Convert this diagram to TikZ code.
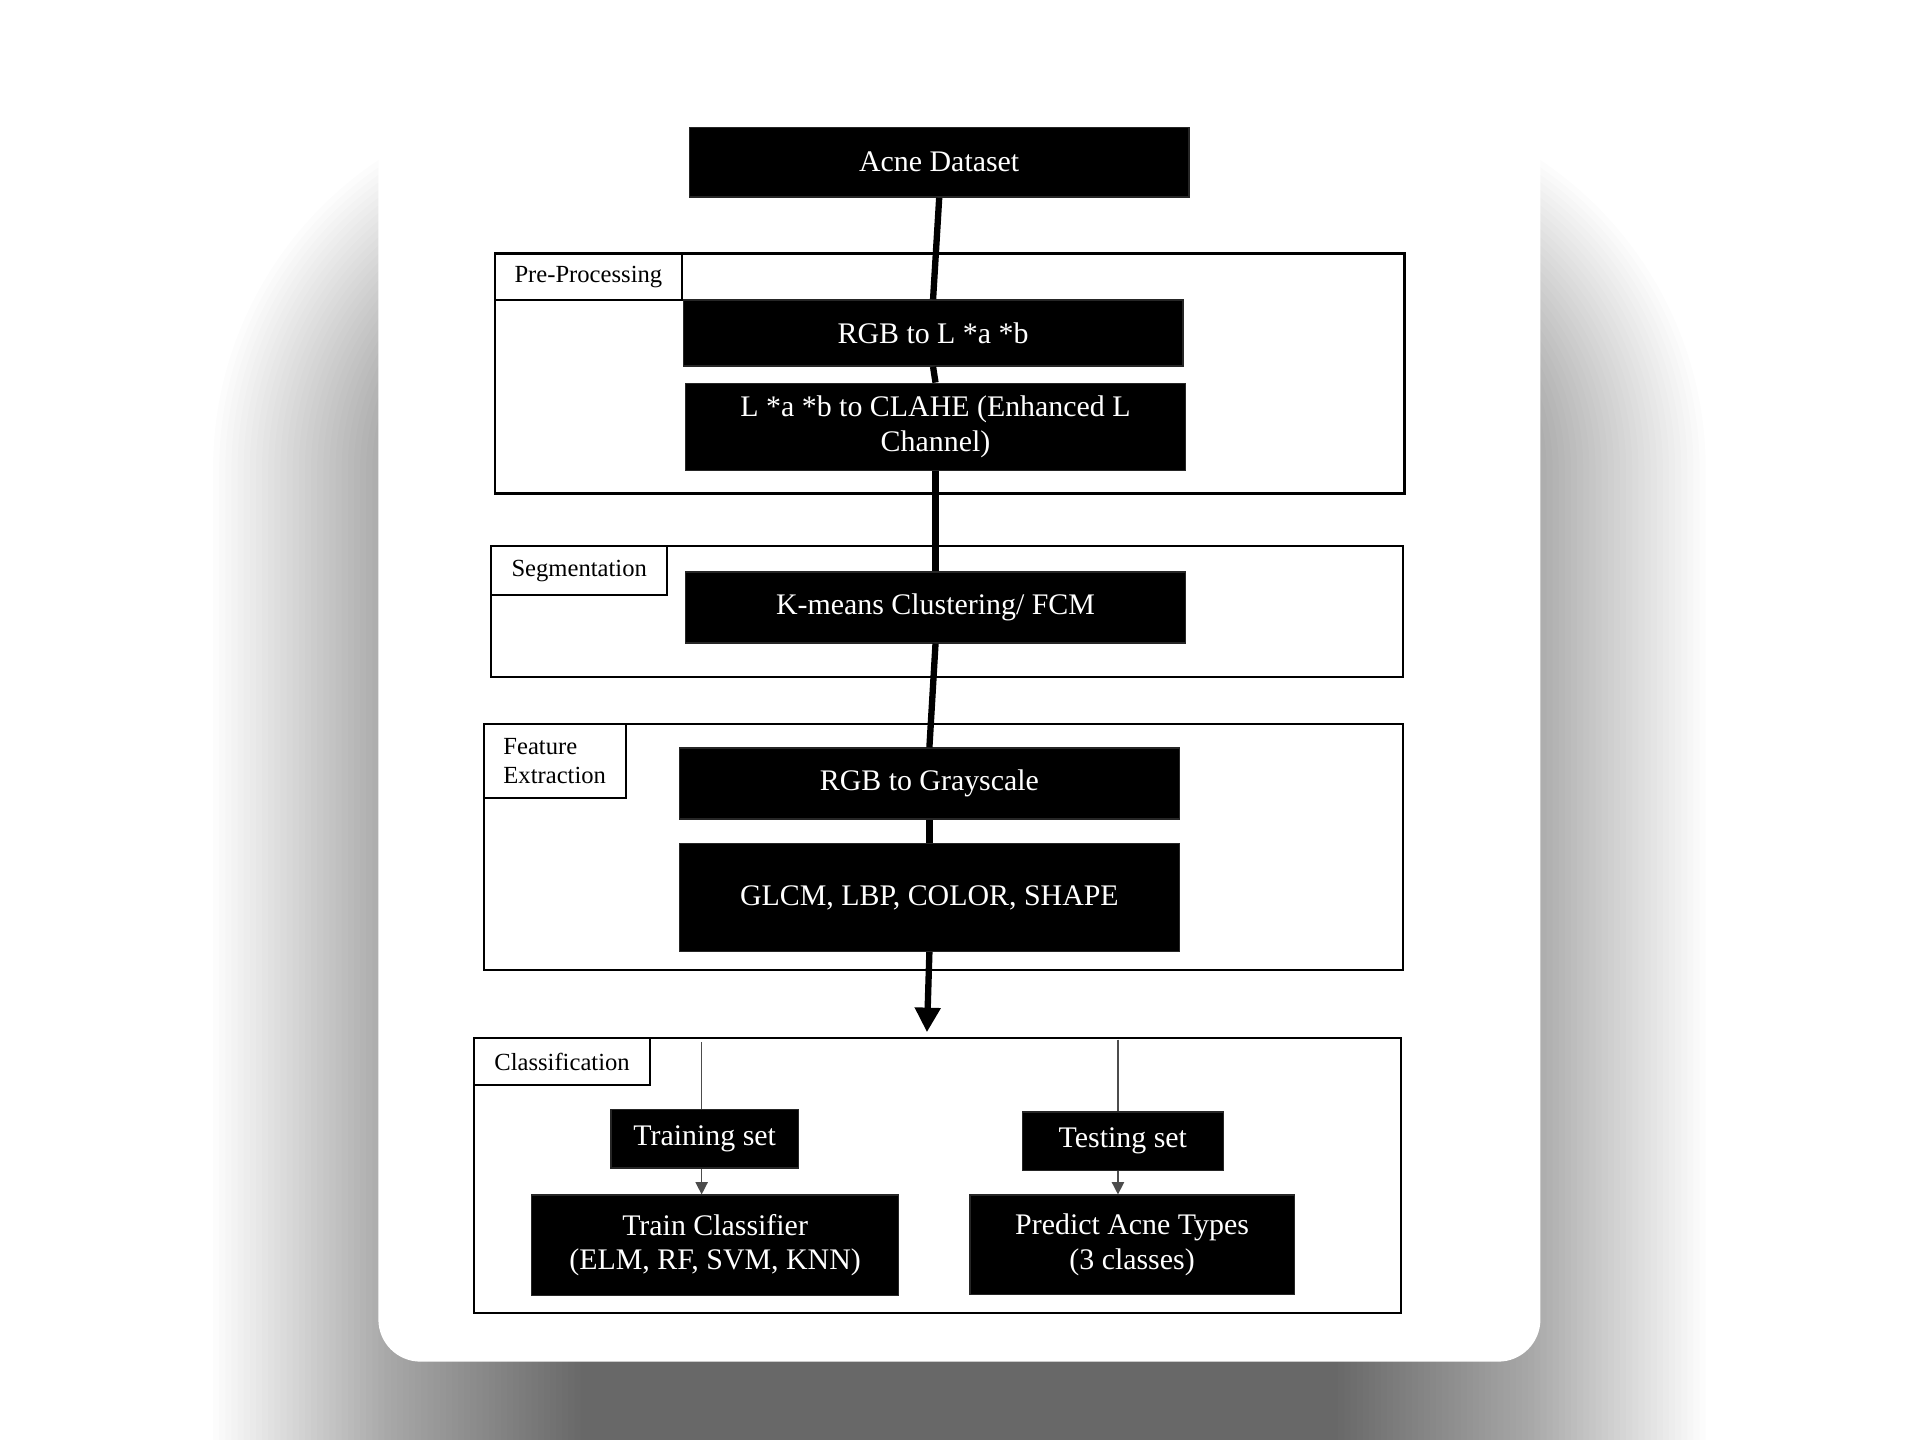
\documentclass[tikz,border=0pt]{standalone}
\usepackage{fontspec}
\setmainfont{Liberation Serif}
\usetikzlibrary{arrows.meta}
\newcommand{\pxu}{0.012245cm}

\begin{document}
\begin{tikzpicture}[x=0.012245cm, y=-0.012245cm,
  blk/.style 2 args={fill=black, draw=black!85, text=white, inner sep=0pt, align=center,
    minimum width=#1*\pxu, minimum height=#2*\pxu,
    font=\fontsize{8.5}{9.8}\selectfont},
  stage/.style 2 args={draw=black, line width=0.6pt, inner sep=0pt,
    minimum width=#1*\pxu, minimum height=#2*\pxu},
  tag/.style 2 args={draw=black, fill=white, line width=0.6pt, inner sep=0pt,
    minimum width=#1*\pxu, minimum height=#2*\pxu,
    font=\fontsize{7}{8.3}\selectfont},
  flow/.style={line width=1.8pt},
  feed/.style={draw=black!70, line width=0.4pt}]
\useasboundingbox (0,0) rectangle (1568,1176);
\fill[white] (0,0) rectangle (1568,1176);
% soft shadow under the card, built from thin layers
\foreach \r in {0,5,...,300}
  \fill[black, opacity=0.011, rounded corners=\r*\pxu+1pt]
    (474-\r,380-\r) rectangle (1093+\r,1300+\r);
% the card
\fill[white, rounded corners=12pt] (309,64) rectangle (1258,1112);

% stage frames and their tags
\node[stage={743}{196}] (pre) at (775.5,305) {};
\node[tag={153}{38}] (pretag) at (480.5,226) {Pre-Processing};
\node[stage={745}{107}] (seg) at (773.5,499.5) {};
\node[tag={144}{40}] (segtag) at (473,466) {Segmentation};
\node[stage={751}{201}] (feat) at (770.5,691.5) {};
\node[tag={116}{61}, align=left, font=\fontsize{7}{8}\selectfont] (feattag) at (453,621.5) {Feature\\Extraction};
\node[stage={757}{224}] (cls) at (765.5,960) {};
\node[tag={144}{38}] (clstag) at (459,867) {Classification};

% main flow
\node[blk={408}{57}] (acne) at (767,132.5) {Acne Dataset};
\node[blk={408}{54}] (rgblab) at (762,272) {RGB to L *a *b};
\node[blk={408}{71}] (clahe) at (764,348.5) {L *a *b to CLAHE (Enhanced L\\Channel)};
\node[blk={408}{58}] (kmeans) at (764,496) {K-means Clustering/ FCM};
\node[blk={408}{58}] (gray) at (759,640) {RGB to Grayscale};
\node[blk={408}{88}] (glcm) at (759,733) {GLCM, LBP, COLOR, SHAPE};
\coordinate (clsin) at (757,843);

\draw[flow] (acne.south) -- (rgblab.north);
\draw[flow] (rgblab.south) -- (clahe.north);
\draw[flow] (clahe.south) -- (kmeans.north);
\draw[flow] (kmeans.south) -- (gray.north);
\draw[flow] (gray.south) -- (glcm.north);
\draw[flow, -{Triangle[width=7pt,length=7pt]}] (glcm.south) -- (clsin);

% classification
\node[blk={153}{48}] (train) at (575.5,930) {Training set};
\node[blk={164}{48}] (test) at (917,932) {Testing set};
\node[blk={300}{82}] (clf) at (584,1017) {Train Classifier\\(ELM, RF, SVM, KNN)};
\node[blk={265}{81}] (pred) at (924.5,1016.5) {Predict Acne Types\\(3 classes)};
\coordinate (traintop) at (573,851);
\coordinate (testtop) at (913,849);
\draw[feed] (traintop) -- (traintop |- train.north);
\draw[feed] (testtop) -- (testtop |- test.north);
\draw[feed, -{Triangle[width=3.5pt,length=3.5pt]}] (train.south -| traintop) -- (traintop |- clf.north);
\draw[feed, -{Triangle[width=3.5pt,length=3.5pt]}] (test.south -| testtop) -- (testtop |- pred.north);
\end{tikzpicture}
\end{document}
